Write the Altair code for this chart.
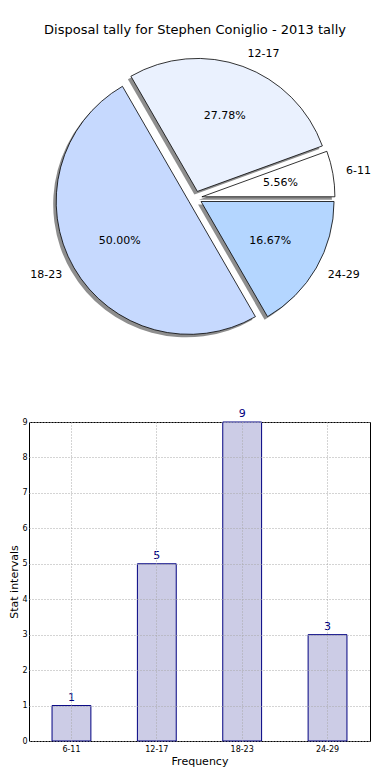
import altair as alt
import pandas as pd

# ---- data ----
title_text = ["Disposal tally for Stephen Coniglio - 2013 tally"]
labels = ["6-11", "12-17", "18-23", "24-29"]
counts = [1, 5, 9, 3]
pie_colors = ["#ffffff", "#eaf1fe", "#c6d9fe", "#b4d6ff"]
y_ticks = [0, 1, 2, 3, 4, 5, 6, 7, 8, 9]

# ---- pie geometry (layout constants) ----
AXIS_W = 21            # width taken by the bar chart's y axis (panels align on plot area)
CX, CY = 187 - AXIS_W, 190   # pie centre inside the panel
R = 133                # radius
E = 7                  # explode distance
LR = 1.1 * R           # label distance
PR = 0.6 * R           # pct label distance

pie_df = pd.DataFrame({"label": labels, "count": counts, "color": pie_colors,
                       "order": list(range(len(labels)))})

base = alt.Chart(pie_df).transform_joinaggregate(
    total="sum(count)"
).transform_window(
    cum="sum(count)", sort=[alt.SortField("order")], frame=[None, 0]
).transform_calculate(
    a0="2*PI*(datum.cum - datum.count)/datum.total",
    a1="2*PI*datum.cum/datum.total",
).transform_calculate(
    mid="(datum.a0 + datum.a1)/2",
    t0="PI/2 - datum.a1",
    t1="PI/2 - datum.a0",
).transform_calculate(
    px=f"{CX} + {E}*cos(datum.mid)",
    py=f"{CY} - {E}*sin(datum.mid)",
    pct="format(datum.count/datum.total*100, '.2f') + '%'",
).transform_calculate(
    sx="datum.px - 3",
    sy="datum.py + 3",
    lx=f"datum.px + {LR}*cos(datum.mid)",
    ly=f"datum.py - {LR}*sin(datum.mid)",
    qx=f"datum.px + {PR}*cos(datum.mid)",
    qy=f"datum.py - {PR}*sin(datum.mid)",
)

theta = alt.Theta("t0:Q", scale=None, stack=None)
theta2 = alt.Theta2("t1:Q")

shadow = base.mark_arc(radius=R, fill="#7a7a7a", opacity=0.85).encode(
    theta=theta, theta2=theta2,
    x=alt.X("sx:Q", scale=None, axis=None),
    y=alt.Y("sy:Q", scale=None, axis=None),
)
wedges = base.mark_arc(radius=R, stroke="black", strokeWidth=0.8).encode(
    theta=theta, theta2=theta2,
    x=alt.X("px:Q", scale=None, axis=None),
    y=alt.Y("py:Q", scale=None, axis=None),
    fill=alt.Fill("color:N", scale=None),
)
pct_text = base.mark_text(fontSize=11, color="black").encode(
    x=alt.X("qx:Q", scale=None, axis=None),
    y=alt.Y("qy:Q", scale=None, axis=None),
    text="pct:N",
)
lab_right = base.transform_filter("cos(datum.mid) >= 0").mark_text(
    fontSize=11, color="black", align="left", baseline="middle").encode(
    x=alt.X("lx:Q", scale=None, axis=None),
    y=alt.Y("ly:Q", scale=None, axis=None),
    text="label:N",
)
lab_left = base.transform_filter("cos(datum.mid) < 0").mark_text(
    fontSize=11, color="black", align="right", baseline="middle").encode(
    x=alt.X("lx:Q", scale=None, axis=None),
    y=alt.Y("ly:Q", scale=None, axis=None),
    text="label:N",
)
title_mark = alt.Chart(pd.DataFrame({"t": title_text})).mark_text(
    fontSize=13, color="black", baseline="middle", align="center").encode(
    x=alt.value(CX), y=alt.value(22), text="t:N")

pie = alt.layer(shadow, wedges, pct_text, lab_right, lab_left, title_mark).properties(
    width=374 - AXIS_W, height=372)

# ---- bar chart ----
bar_df = pd.DataFrame({"label": labels, "count": counts})
grid_style = dict(grid=True, gridDash=[1, 2], gridColor="#a8a8a8", gridWidth=1)

xenc = alt.X("label:N", sort=labels,
             scale=alt.Scale(paddingInner=0.545, paddingOuter=0.27),
             axis=alt.Axis(title="Frequency", labelAngle=0, domain=False, ticks=False,
                           labelFontSize=8, labelPadding=4, titleFontSize=11,
                           titlePadding=2, bandPosition=0.5, zindex=1,
                           labelColor="black", titleColor="black",
                           titleFontWeight="normal", **grid_style))
yenc = alt.Y("count:Q", scale=alt.Scale(domain=[0, 9], nice=False),
             axis=alt.Axis(title="Stat intervals", values=y_ticks, tickCount=10,
                           domain=False, ticks=False, labelFontSize=8, labelPadding=2,
                           labelOverlap=False, labelFlush=False, labelBound=False,
                           titleFontSize=11, titlePadding=2, zindex=1,
                           labelColor="black", titleColor="black",
                           titleFontWeight="normal", **grid_style))

bars = alt.Chart(bar_df).mark_bar(fill="#cccce6", stroke="#000080", strokeWidth=1).encode(
    x=xenc, y=yenc)
bar_text = alt.Chart(bar_df).mark_text(color="#000080", fontSize=11, baseline="bottom",
                                       dy=-3).encode(
    x=alt.X("label:N", sort=labels), y=alt.Y("count:Q"), text="count:Q")

bar_chart = alt.layer(bars, bar_text).properties(
    width=370 - 8 - AXIS_W, height=319,
    view=alt.ViewBackground(stroke="black", strokeWidth=1))

chart = alt.vconcat(pie, bar_chart, spacing=27, padding=0).configure(
    font="DejaVu Sans", view=alt.ViewConfig(stroke=None)).configure_axis(
    labelOverlap=False)

chart.save("out.html", embed_options={"renderer": "svg", "actions": False})
